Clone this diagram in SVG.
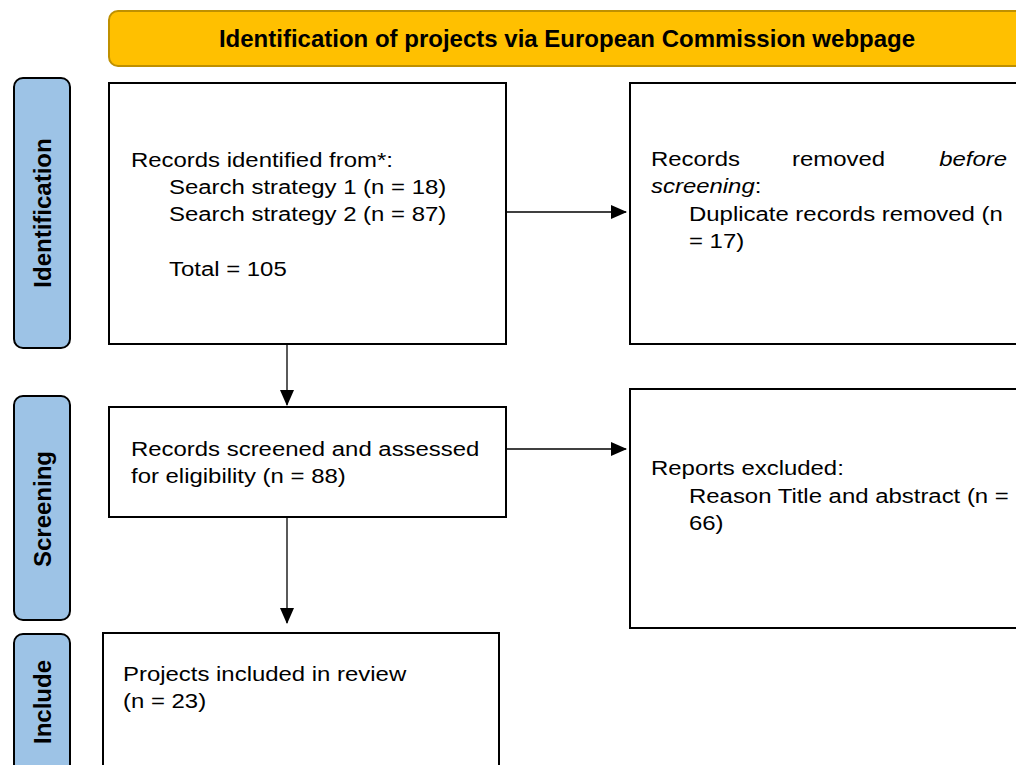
<svg xmlns="http://www.w3.org/2000/svg" width="1016" height="765" viewBox="0 0 1016 765">
<defs>
<style>
.box{fill:#fff;stroke:#000;stroke-width:2}
.side{fill:#9DC3E6;stroke:#000;stroke-width:2}
.t{font-family:"Liberation Sans",Arial,sans-serif;font-size:21px;fill:#000}
.b{font-family:"Liberation Sans",Arial,sans-serif;font-size:24px;font-weight:bold;fill:#000}
.c{stroke:#000;stroke-width:1.3;fill:none}
</style>
<marker id="ahb" markerWidth="16" markerHeight="14" refX="15" refY="7" orient="auto" markerUnits="userSpaceOnUse">
<path d="M0,0 L16,7 L0,14 z" fill="#000"/>
</marker>
</defs>
<rect width="1016" height="765" fill="#fff"/>
<g id="banner">
<rect x="109" y="11" width="930" height="55" rx="9" fill="#FFC000" stroke="#BF9000" stroke-width="2"/>
<text class="b" x="567" y="47" text-anchor="middle">Identification of projects via European Commission webpage</text>
</g>
<g id="side-identification">
<rect class="side" x="14" y="78" width="56" height="270" rx="9"/>
<text class="b" transform="translate(51,213) rotate(-90)" text-anchor="middle">Identification</text>
</g>
<g id="side-screening">
<rect class="side" x="14" y="396" width="56" height="224" rx="9"/>
<text class="b" transform="translate(51,509) rotate(-90)" text-anchor="middle">Screening</text>
</g>
<g id="side-include">
<rect class="side" x="14" y="634" width="56" height="150" rx="9"/>
<text class="b" transform="translate(51,702) rotate(-90)" text-anchor="middle">Include</text>
</g>
<g id="node-identified">
<rect class="box" x="109" y="83" width="397" height="261"/>
<text class="t" transform="translate(131,167) scale(1.14,1)">Records identified from*:</text>
<text class="t" transform="translate(169,194) scale(1.14,1)">Search strategy 1 (n = 18)</text>
<text class="t" transform="translate(169,221) scale(1.14,1)">Search strategy 2 (n = 87)</text>
<text class="t" transform="translate(169,276) scale(1.14,1)">Total = 105</text>
</g>
<g id="node-removed">
<rect class="box" x="630" y="83" width="400" height="261"/>
<text class="t" transform="translate(651,166) scale(1.14,1)">Records</text>
<text class="t" transform="translate(792,166) scale(1.14,1)">removed</text>
<text class="t" transform="translate(1007,166) scale(1.14,1)" text-anchor="end" font-style="italic">before</text>
<text class="t" transform="translate(651,193) scale(1.14,1)"><tspan font-style="italic">screening</tspan>:</text>
<text class="t" transform="translate(689,221) scale(1.14,1)">Duplicate records removed (n</text>
<text class="t" transform="translate(689,248) scale(1.14,1)">= 17)</text>
</g>
<g id="node-screened">
<rect class="box" x="109" y="407" width="397" height="110"/>
<text class="t" transform="translate(131,456) scale(1.14,1)">Records screened and assessed</text>
<text class="t" transform="translate(131,483) scale(1.14,1)">for eligibility (n = 88)</text>
</g>
<g id="node-excluded">
<rect class="box" x="630" y="389" width="400" height="239"/>
<text class="t" transform="translate(651,475) scale(1.14,1)">Reports excluded:</text>
<text class="t" transform="translate(689,503) scale(1.14,1)">Reason Title and abstract (n =</text>
<text class="t" transform="translate(689,530) scale(1.14,1)">66)</text>
</g>
<g id="node-included">
<rect class="box" x="103" y="633" width="396" height="150"/>
<text class="t" transform="translate(123,681) scale(1.14,1)">Projects included in review</text>
<text class="t" transform="translate(123,708) scale(1.14,1)">(n = 23)</text>
</g>
<g id="connectors">
<line class="c" x1="507" y1="212" x2="626" y2="212" marker-end="url(#ahb)"/>
<line class="c" x1="287" y1="345" x2="287" y2="405" marker-end="url(#ahb)"/>
<line class="c" x1="507" y1="449" x2="626" y2="449" marker-end="url(#ahb)"/>
<line class="c" x1="287" y1="518" x2="287" y2="623" marker-end="url(#ahb)"/>
</g>
</svg>
